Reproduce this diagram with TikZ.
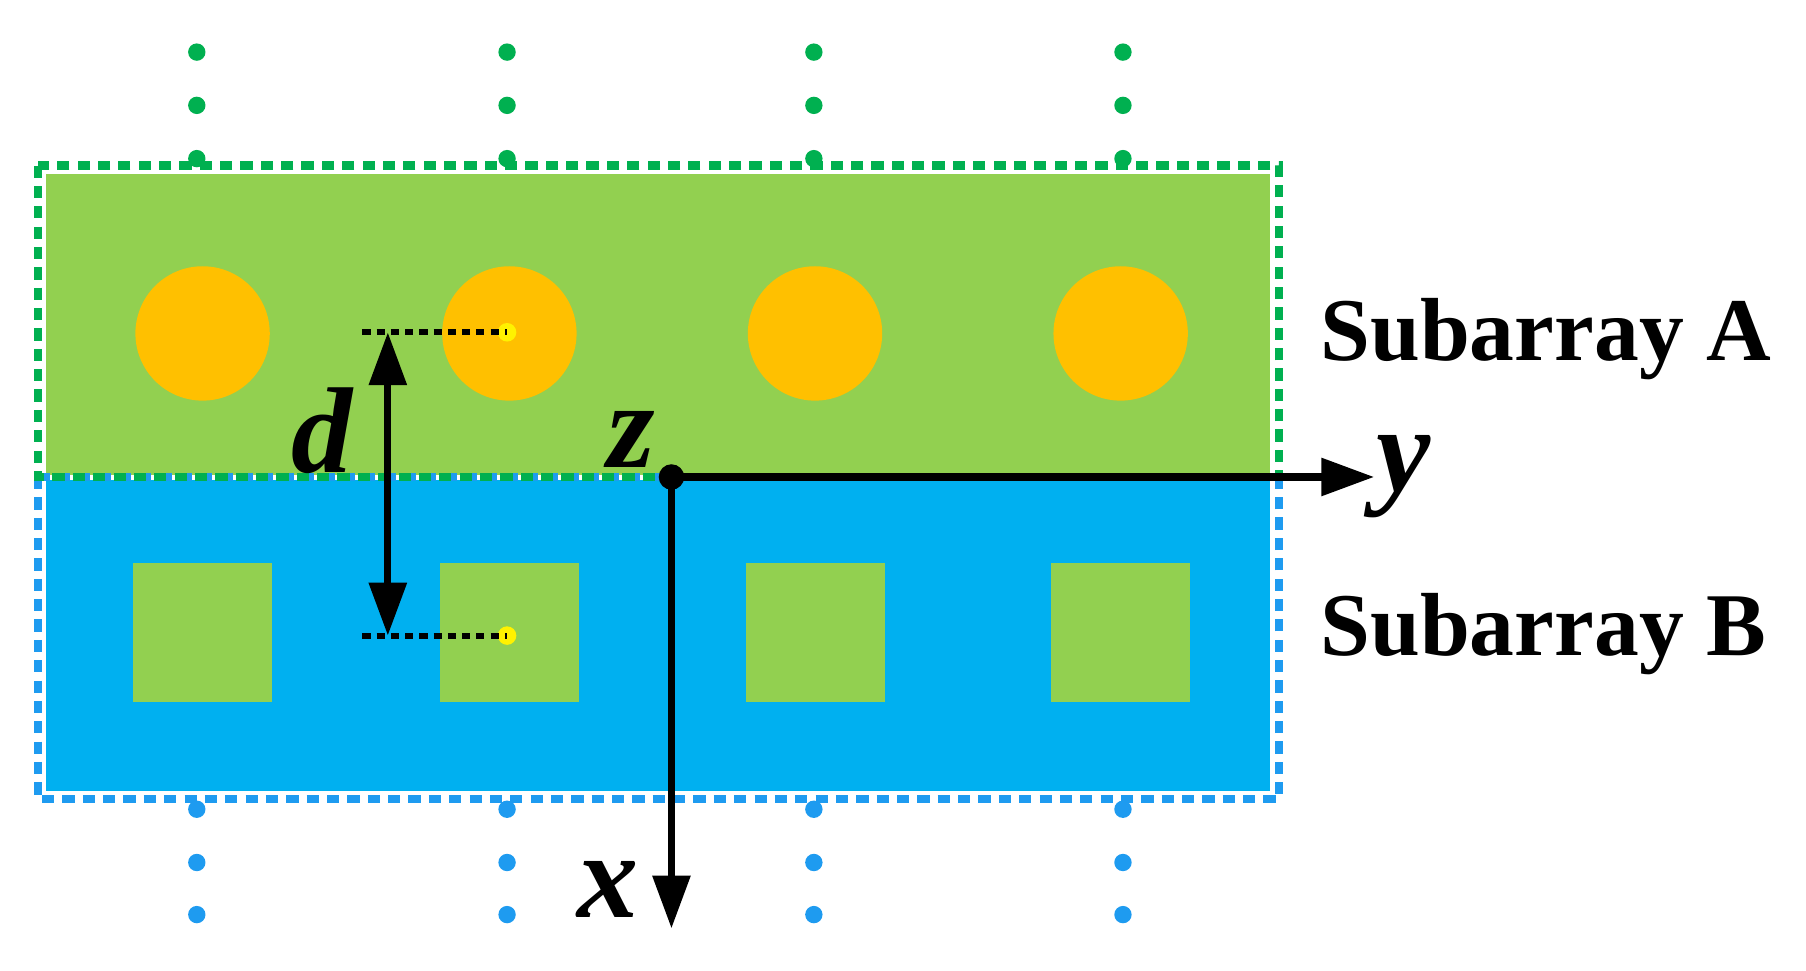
\documentclass[tikz,border=0pt]{standalone}
\usepackage{fontspec}
\setmainfont{Liberation Serif}
\usetikzlibrary{arrows.meta,positioning}
\definecolor{fillA}{HTML}{92D050}
\definecolor{fillB}{HTML}{00B0F0}
\definecolor{elemA}{HTML}{FFC000}
\definecolor{dotA}{HTML}{00B050}
\definecolor{dotB}{HTML}{1E9BF0}
\begin{document}
\begin{tikzpicture}[x=0.01cm, y=-0.01cm]
        % Define styles
        \tikzset{
            border/.style={line width=2pt, dash pattern=on 3pt off 2pt},
            dot/.style={circle, inner sep=0pt, minimum size=0.15cm},
            label/.style={font=\fontsize{30}{36}\selectfont\bfseries\itshape, inner sep=0pt},
            sublabel/.style={font=\fontsize{22}{26}\selectfont\bfseries, inner sep=0pt, anchor=west},
            arrow/.style={line width=1.8pt, -{Triangle[length=13pt, width=9pt]}},
            guide/.style={line width=1.5pt, dash pattern=on 2pt off 1.5pt}
        }
        \useasboundingbox (0,0) rectangle (1560,838);

        % Subarray panels
        \fill [fillA] (40,150) rectangle (1097,410);
        \fill [fillB] (40,415) rectangle (1097,683);

        % Elements and dots
        \foreach \px [count=\i] in {175,440,704,968} {
            \node [circle, fill=elemA, minimum size=1.16cm, inner sep=0pt] (c\i) at (\px,288) {};
            \node [rectangle, fill=fillA, minimum size=1.2cm, inner sep=0pt] (s\i) at (\px,546) {};
        }
        \foreach \px in {170,438,703,970} {
            \foreach \py in {45,91,137}
                \node [dot, fill=dotA] at (\px,\py) {};
            \foreach \py in {699,745,790}
                \node [dot, fill=dotB] at (\px,\py) {};
        }

        % Dashed borders
        \draw [border, dotB] (33,412) rectangle (1105,690);
        \draw [border, dotA] (33,143) rectangle (1105,412);

        % Spacing d
        \node [dot, fill=yellow, minimum size=0.16cm] (pa) at (438,287) {};
        \node [dot, fill=yellow, minimum size=0.16cm] (pb) at (438,549) {};
        \coordinate (qa) at (313,287);
        \coordinate (qb) at (313,549);
        \draw [guide] (qa) -- (pa.center);
        \draw [guide] (qb) -- (pb.center);
        \coordinate (da) at (335,287);
        \coordinate (db) at (335,549);
        \draw [arrow, {Triangle[length=13pt, width=9pt]}-{Triangle[length=13pt, width=9pt]}] (da) -- (db);
        \node [label] (d) at (278,372) {d};

        % Axes
        \node [circle, fill=black, minimum size=0.22cm, inner sep=0pt] (o) at (580,412) {};
        \coordinate (ye) at (1187,412);
        \coordinate (xe) at (580,802);
        \draw [arrow] (o.center) -- (ye);
        \draw [arrow] (o.center) -- (xe);
        \node [label] (z) at (545,380) {z};
        \node [label] (y) at (1212,412) {y};
        \node [label] (x) at (525,768) {x};

        % Side labels
        \node [sublabel] (la) at (1140,293) {Subarray A};
        \node [sublabel] (lb) at (1140,548) {Subarray B};
    \end{tikzpicture}
\end{document}
